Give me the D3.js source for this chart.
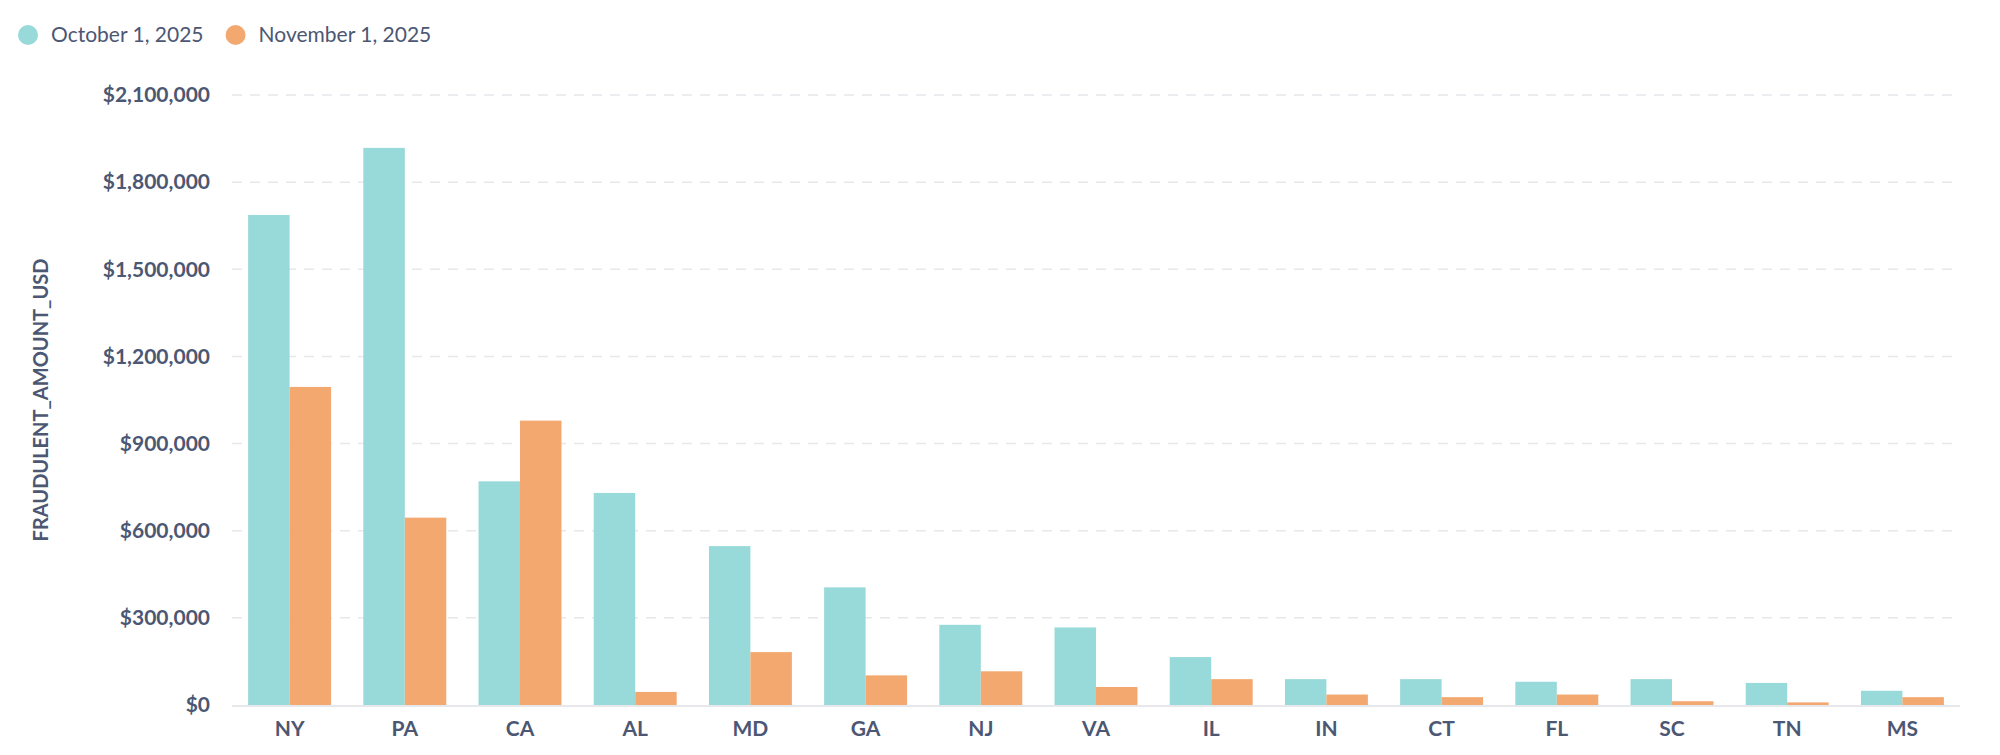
<!DOCTYPE html>
<html><head><meta charset="utf-8">
<script src="https://cdn.jsdelivr.net/npm/d3@7"></script>
<style>body{margin:0;background:#fff;font-family:Lato,sans-serif}</style>
</head><body>
<svg id="chart" width="2000" height="755"></svg>
<script>
var states = ["NY","PA","CA","AL","MD","GA","NJ","VA","IL","IN","CT","FL","SC","TN","MS"];
var october = [1687000,1918000,770000,730000,547000,405000,276000,267000,165000,89000,89000,80000,89000,76000,49000];
var november = [1095000,645000,979000,45000,182000,102000,116000,62000,89000,36000,27000,36000,13000,9000,27000];
var seriesNames = ["October 1, 2025","November 1, 2025"];
var colors = ["#98d9d9","#f2a86f"];
var yTicks = [0,300000,600000,900000,1200000,1500000,1800000,2100000];

var svg = d3.select("#chart");
var plotLeft = 232, plotRight = 1960, plotTop = 95, plotBottom = 705;
var textColor = "#4c5773";

var x = d3.scaleBand().domain(states).range([plotLeft, plotRight]).paddingInner(0.28).paddingOuter(0.14);
var x2 = d3.scaleBand().domain([0,1]).range([0, x.bandwidth()]);
var y = d3.scaleLinear().domain([0,2100000]).range([plotBottom, plotTop]);

// grid
svg.append("g").selectAll("line").data(yTicks.slice(1)).enter().append("line")
  .attr("x1", plotLeft).attr("x2", plotRight)
  .attr("y1", function(d){return y(d);}).attr("y2", function(d){return y(d);})
  .attr("stroke", "#e6e8ec").attr("stroke-width", 1.5).attr("stroke-dasharray", "10,8");

var fmt = function(d){ return "$" + d3.format(",")(d); };
var yAxis = svg.append("g").attr("transform", "translate(" + (plotLeft - 22) + ",0)")
  .call(d3.axisLeft(y).tickValues(yTicks).tickFormat(fmt).tickSize(0).tickPadding(0));
yAxis.select(".domain").remove();
yAxis.selectAll("text").attr("fill", textColor).style("font-size", "21px").style("font-weight", "700").style("font-family", "Lato");

// bars
var data = [october, november];
data.forEach(function(vals, s){
  svg.append("g").selectAll("rect").data(vals).enter().append("rect")
    .attr("x", function(d,i){return x(states[i]) + x2(s);})
    .attr("width", x2.bandwidth())
    .attr("y", function(d){return y(d);})
    .attr("height", function(d){return y(0) - y(d);})
    .attr("fill", colors[s]);
});

// baseline
svg.append("line").attr("x1", plotLeft).attr("x2", plotRight).attr("y1", plotBottom + 1).attr("y2", plotBottom + 1)
  .attr("stroke", "#e6e8ec").attr("stroke-width", 2);

var xAxis = svg.append("g").attr("transform", "translate(0," + (plotBottom + 12) + ")")
  .call(d3.axisBottom(x).tickSize(0).tickPadding(0));
xAxis.select(".domain").remove();
xAxis.selectAll("text").attr("fill", textColor).style("font-size", "21px").style("font-weight", "700").style("font-family", "Lato").attr("dy", "0.9em");

// y title
svg.append("text").attr("transform", "translate(48," + ((plotTop + plotBottom) / 2) + ") rotate(-90)")
  .attr("text-anchor", "middle").attr("fill", textColor).style("font-size", "20px").style("font-weight", "700")
  .text("FRAUDULENT_AMOUNT_USD");

// legend
var lx = 28;
seriesNames.forEach(function(name, i){
  svg.append("circle").attr("cx", lx).attr("cy", 35).attr("r", 10).attr("fill", colors[i]);
  var t = svg.append("text").attr("x", lx + 23).attr("y", 35).attr("dy", "0.35em")
    .attr("fill", textColor).style("font-size", "21px").text(name);
  lx += 23 + t.node().getComputedTextLength() + 32;
});
</script>
</body></html>
